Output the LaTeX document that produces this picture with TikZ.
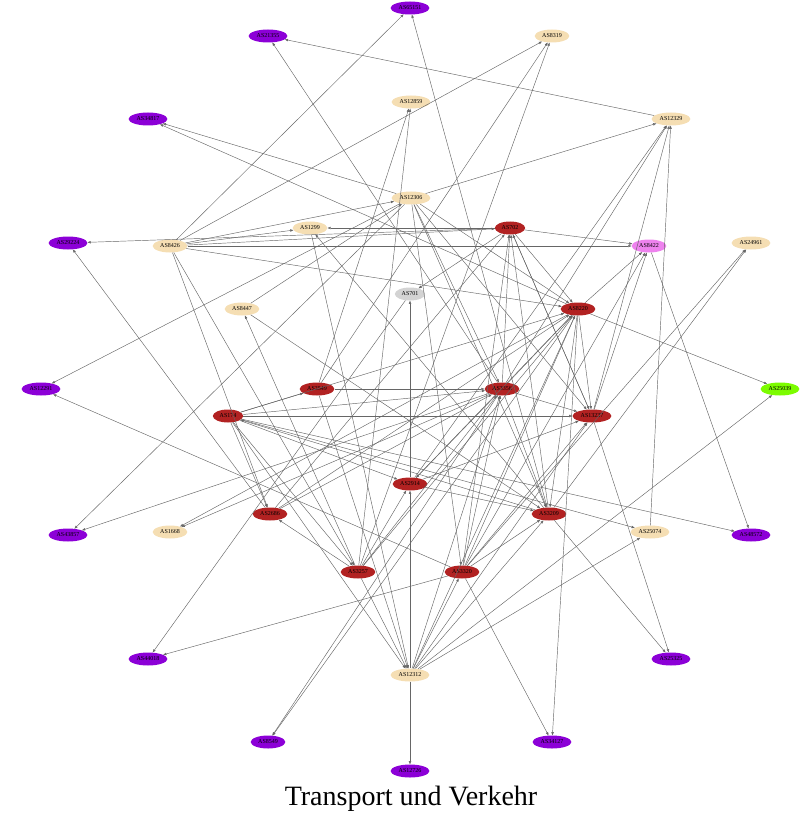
\documentclass[tikz,border=0pt]{standalone}
\usepackage{fontspec}
\setmainfont{Liberation Serif}
\usetikzlibrary{shapes.geometric,arrows.meta}
\definecolor{cpurple}{RGB}{140,0,215}
\definecolor{cred}{RGB}{178,34,34}
\definecolor{ctan}{RGB}{245,222,179}
\definecolor{cpink}{RGB}{238,130,238}
\definecolor{cgrey}{RGB}{211,211,211}
\definecolor{cgreen}{RGB}{124,252,0}
\begin{document}
\begin{tikzpicture}[x=1pt,y=-1pt,
  asn/.style={ellipse,draw=none,inner xsep=2.4pt,inner ysep=0.5pt,minimum height=13pt,
    font=\fontsize{6}{7}\selectfont,text=black},
  pu/.style={asn,fill=cpurple},
  rd/.style={asn,fill=cred},
  tn/.style={asn,fill=ctan},
  pk/.style={asn,fill=cpink},
  gy/.style={asn,fill=cgrey},
  gr/.style={asn,fill=cgreen},
  edge/.style={draw=black!60,line width=0.45pt,-{Triangle[length=3.2pt,width=2.4pt]}}]
\useasboundingbox (0,0) rectangle (800,834);
\begin{scope}[on background layer/.style={}]
\end{scope}
% nodes
\node[pu] (a65151) at (410,8) {AS65151};
\node[pu] (a21355) at (268,36) {AS21355};
\node[tn] (a8319) at (552,36) {AS8319};
\node[tn] (a12859) at (411,102) {AS12859};
\node[pu] (a34817) at (148,119) {AS34817};
\node[tn] (a12329) at (671,119) {AS12329};
\node[tn] (a12306) at (411,198) {AS12306};
\node[pu] (a29224) at (68,243) {AS29224};
\node[tn] (a8426) at (170,246) {AS8426};
\node[tn] (a1299) at (310,228) {AS1299};
\node[rd] (a702) at (510,228) {AS702};
\node[pk] (a8422) at (649,246) {AS8422};
\node[tn] (a24961) at (751,243) {AS24961};
\node[gy] (a701) at (410,294) {AS701};
\node[tn] (a8447) at (242,309) {AS8447};
\node[rd] (a8220) at (578,309) {AS8220};
\node[pu] (a12291) at (41,389) {AS12291};
\node[rd] (a3549) at (317,389) {AS3549};
\node[rd] (a3356) at (502,389) {AS3356};
\node[gr] (a25039) at (780,389) {AS25039};
\node[rd] (a174) at (228,416) {AS174};
\node[rd] (a13237) at (592,416) {AS13237};
\node[rd] (a2914) at (410,484) {AS2914};
\node[rd] (a2686) at (270,514) {AS2686};
\node[rd] (a3209) at (549,514) {AS3209};
\node[pu] (a43857) at (68,535) {AS43857};
\node[tn] (a1668) at (170,532) {AS1668};
\node[tn] (a25074) at (650,532) {AS25074};
\node[pu] (a48572) at (751,535) {AS48572};
\node[rd] (a3257) at (358,572) {AS3257};
\node[rd] (a3320) at (462,572) {AS3320};
\node[pu] (a44018) at (148,659) {AS44018};
\node[tn] (a12312) at (410,675) {AS12312};
\node[pu] (a25325) at (671,659) {AS25325};
\node[pu] (a8549) at (268,742) {AS8549};
\node[pu] (a34127) at (552,742) {AS34127};
\node[pu] (a12726) at (410,771) {AS12726};
\node[font=\fontsize{28}{30}\selectfont,anchor=base] (title) at (411,805) {Transport und Verkehr};
% edges
\foreach \s/\t in {
 a8426/a65151, a3209/a65151, a12329/a21355, a3356/a21355, a12306/a34817, a8220/a34817,
 a702/a29224, a2686/a29224, a12306/a12291, a3320/a12291, a12306/a43857, a3356/a43857,
 a174/a48572, a8422/a48572, a701/a44018, a3320/a44018, a3356/a8549, a8220/a8549,
 a12312/a12726, a3320/a34127, a8220/a34127, a3209/a25325, a13237/a25325,
 a8220/a25039, a12312/a25039, a3320/a24961, a3209/a24961, a174/a25074, a25074/a12329,
 a12312/a25074, a8220/a1668, a3356/a1668, a13237/a12329, a3356/a12329, a2914/a12329,
 a12306/a12329, a8426/a8319, a3549/a8319, a3257/a8319, a3549/a12859, a3257/a12859,
 a8426/a8422, a702/a8422, a8220/a8422, a3320/a8422, a13237/a8422,
 a8426/a702, a702/a1299, a8426/a1299, a702/a701, a3356/a702, a702/a8220, a13237/a702,
 a3320/a702, a3209/a702, a8426/a12306, a8426/a8220, a8426/a2686, a8426/a3257,
 a3209/a1299, a1299/a12312, a2914/a701, a8447/a12306, a3257/a8447, a8447/a3209,
 a174/a3549, a3549/a3356, a3549/a12312, a174/a13237, a174/a3356, a174/a2914,
 a3209/a174, a174/a2686, a174/a3257, a174/a12312, a174/a8220,
 a12306/a3356, a12306/a8220, a12306/a13237, a12306/a3209, a12306/a3320,
 a3356/a13237, a3356/a2914, a3356/a3209, a3356/a8220, a3320/a3356, a3257/a3356,
 a12312/a3356, a2686/a3356, a2686/a8220, a2914/a8220, a3257/a8220, a3320/a8220,
 a12312/a8220, a8220/a13237, a8220/a3209, a2914/a13237, a3320/a13237, a12312/a13237,
 a702/a13237, a2914/a3209, a3320/a3209, a12312/a3209, a3257/a2686, a3257/a2914,
 a3257/a12312, a12312/a2914, a12312/a3320, a2686/a702}
 \draw[edge] (\s) -- (\t);
\end{tikzpicture}
\end{document}
